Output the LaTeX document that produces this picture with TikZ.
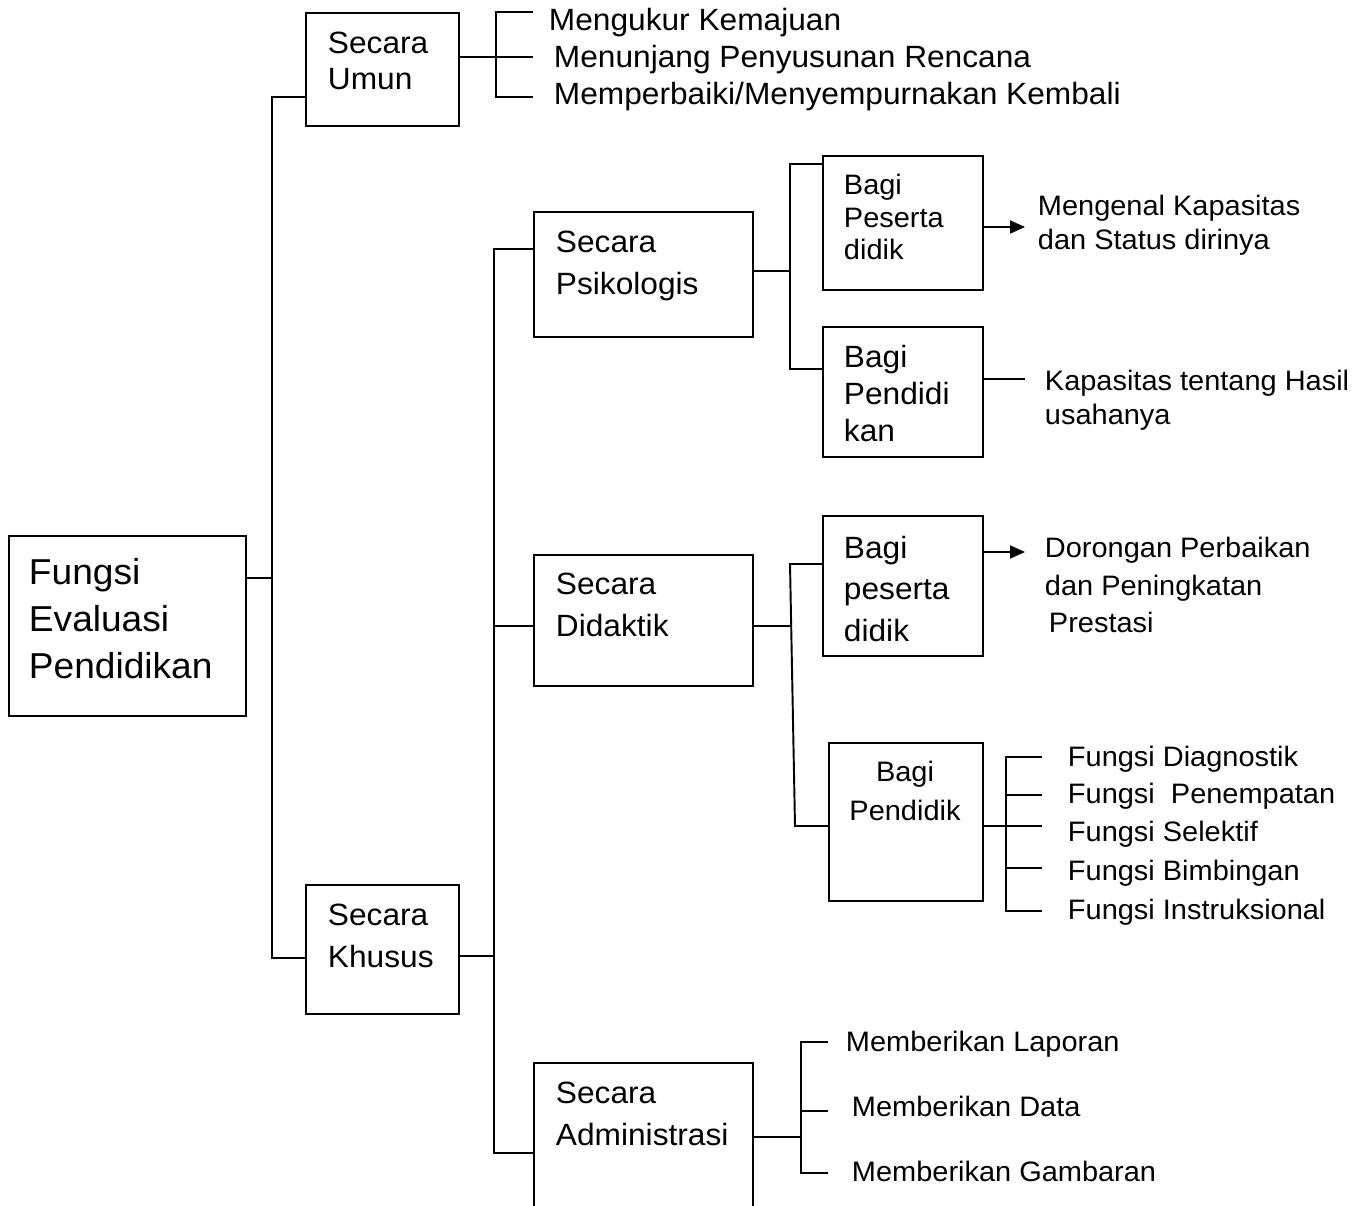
\documentclass[tikz,border=0pt]{standalone}
\usepackage{fontspec}
\setmainfont{Liberation Sans}[FakeStretch=1.03]
\usetikzlibrary{positioning}
\usetikzlibrary{arrows.meta}

\begin{document}
\begin{tikzpicture}[x=0.02cm,y=-0.02cm,line width=1.1pt]
    % gaya kotak dan teks
    \tikzstyle{box}=[draw,inner sep=0pt,anchor=north west]
    \tikzstyle{txt}=[inner sep=0pt,anchor=north west,align=left,font=\fontsize{17.5}{23.8}\selectfont]
    \tikzstyle{small}=[txt,font=\fontsize{16}{19.3}\selectfont]
    \tikzstyle{panah}=[-{Triangle[length=0.3cm,width=0.26cm]}]
    \useasboundingbox (0,0) rectangle (1365,1206);
    \clip (0,0) rectangle (1365,1206);

    \node[box,minimum width=4.74cm,minimum height=3.6cm] (root) at (8,535) {};
    \node[txt,font=\fontsize{20.5}{26.9}\selectfont] (root-t) at (28,557) {Fungsi\\Evaluasi\\Pendidikan};

    \node[box,minimum width=3.06cm,minimum height=2.26cm] (umun) at (305,12) {};
    \node[txt,font=\fontsize{17.5}{20.4}\selectfont] (umun-t) at (327,30.8) {Secara\\Umun};
    \node[box,minimum width=3.06cm,minimum height=2.58cm] (khusus) at (305,884) {};
    \node[txt] (khusus-t) at (327,902.8) {Secara\\Khusus};

    \node[box,minimum width=4.38cm,minimum height=2.5cm] (psi) at (533,211) {};
    \node[txt] (psi-t) at (555,229.8) {Secara\\Psikologis};
    \node[box,minimum width=4.38cm,minimum height=2.62cm] (did) at (533,554) {};
    \node[txt] (did-t) at (555,571.8) {Secara\\Didaktik};
    \node[box,minimum width=4.38cm,minimum height=4cm] (adm) at (533,1062) {};
    \node[txt] (adm-t) at (555,1080.8) {Secara\\Administrasi};

    \node[box,minimum width=3.2cm,minimum height=2.68cm] (bps) at (822,155) {};
    \node[txt,font=\fontsize{16}{18.7}\selectfont] (bps-t) at (843,172.9) {Bagi\\Peserta\\didik};
    \node[box,minimum width=3.2cm,minimum height=2.6cm] (bpk) at (822,326) {};
    \node[txt,font=\fontsize{17.5}{21.3}\selectfont] (bpk-t) at (843,343.8) {Bagi\\Pendidi\\kan};
    \node[box,minimum width=3.2cm,minimum height=2.8cm] (bpd) at (822,515) {};
    \node[txt] (bpd-t) at (843,534.8) {Bagi\\peserta\\didik};
    \node[box,minimum width=3.08cm,minimum height=3.16cm] (bpdk) at (828,742) {};
    \node[txt,anchor=north,align=center,font=\fontsize{16}{22.1}\selectfont] (bpdk-t) at (905,759.9) {Bagi\\Pendidik};

    \node[txt] (ukur) at (548,6.8) {Mengukur Kemajuan};
    \node[txt] (tunjang) at (553,43.8) {Menunjang Penyusunan Rencana};
    \node[txt] (baiki) at (553,80.8) {Memperbaiki/Menyempurnakan Kembali};

    \node[small] (kenal) at (1037,193.9) {Mengenal Kapasitas\\dan Status dirinya};
    \node[small] (hasil) at (1044,368.9) {Kapasitas tentang Hasil\\usahanya};
    \node[small,font=\fontsize{16}{21.5}\selectfont] (dorong) at (1044,535.9) {Dorongan Perbaikan\\dan Peningkatan\\\hspace*{0.08cm}Prestasi};

    \node[small] (diag) at (1067,744.9) {Fungsi Diagnostik};
    \node[small] (tempat) at (1067,781.9) {Fungsi~ Penempatan};
    \node[small] (selek) at (1067,819.9) {Fungsi Selektif};
    \node[small] (bimb) at (1067,858.9) {Fungsi Bimbingan};
    \node[small] (instr) at (1067,897.9) {Fungsi Instruksional};

    \node[small] (lapor) at (845,1029.9) {Memberikan Laporan};
    \node[small] (data) at (851,1094.9) {Memberikan Data};
    \node[small] (gambar) at (851,1159.9) {Memberikan Gambaran};

    % garis penghubung
    \coordinate (s1a) at (272,97);
    \coordinate (s1b) at (272,578);
    \coordinate (s1c) at (272,958);
    \draw (umun.west |- s1a) -- (s1a) -- (s1c) -- (khusus.west |- s1c);
    \draw (root.east |- s1b) -- (s1b);

    \coordinate (u1) at (496,12);
    \coordinate (u2) at (496,57);
    \coordinate (u3) at (496,97);
    \draw (umun.east |- u2) -- (u2);
    \draw[shorten <=0.3cm,shorten >=0.4cm] (u1 -| ukur.west) -- (u1) -- (u3) -- (u3 -| baiki.west);
    \draw[shorten >=0.4cm] (u2) -- (u2 -| tunjang.west);

    \coordinate (s2a) at (494,249);
    \coordinate (s2b) at (494,626);
    \coordinate (s2k) at (494,956);
    \coordinate (s2c) at (494,1153);
    \draw (psi.west |- s2a) -- (s2a) -- (s2c) -- (adm.west |- s2c);
    \draw (did.west |- s2b) -- (s2b);
    \draw (khusus.east |- s2k) -- (s2k);

    \coordinate (p1) at (790,164);
    \coordinate (p2) at (790,271);
    \coordinate (p3) at (790,369);
    \draw (bps.west |- p1) -- (p1) -- (p3) -- (bpk.west |- p3);
    \draw (psi.east |- p2) -- (p2);
    \coordinate (a1) at (1025,227);
    \draw[panah] (bps.east |- a1) -- (a1);
    \coordinate (h1) at (1025,379);
    \draw (bpk.east |- h1) -- (h1);

    \coordinate (d1) at (790,564);
    \coordinate (d2) at (791,626);
    \coordinate (d3) at (795,826);
    \draw (bpd.west |- d1) -- (d1) -- (d3) -- (bpdk.west |- d3);
    \draw (did.east |- d2) -- (d2);
    \coordinate (a2) at (1025,552);
    \draw[panah] (bpd.east |- a2) -- (a2);

    \coordinate (f1) at (1006,757);
    \coordinate (f2) at (1006,795);
    \coordinate (f3) at (1006,826);
    \coordinate (f4) at (1006,868);
    \coordinate (f5) at (1006,911);
    \draw (bpdk.east |- f3) -- (f3);
    \draw[shorten <=0.5cm,shorten >=0.5cm] (f1 -| diag.west) -- (f1) -- (f5) -- (f5 -| instr.west);
    \draw[shorten >=0.5cm] (f2) -- (f2 -| tempat.west);
    \draw[shorten >=0.5cm] (f3) -- (f3 -| selek.west);
    \draw[shorten >=0.5cm] (f4) -- (f4 -| bimb.west);

    \coordinate (m0) at (801,1137);
    \coordinate (m1) at (801,1042);
    \coordinate (m2) at (801,1111);
    \coordinate (m3) at (801,1173);
    \draw (adm.east |- m0) -- (m0);
    \draw[shorten <=0.34cm,shorten >=0.46cm] (m1 -| lapor.west) -- (m1) -- (m3) -- (m3 -| gambar.west);
    \draw[shorten >=0.46cm] (m2) -- (m2 -| data.west);
\end{tikzpicture}
\end{document}
